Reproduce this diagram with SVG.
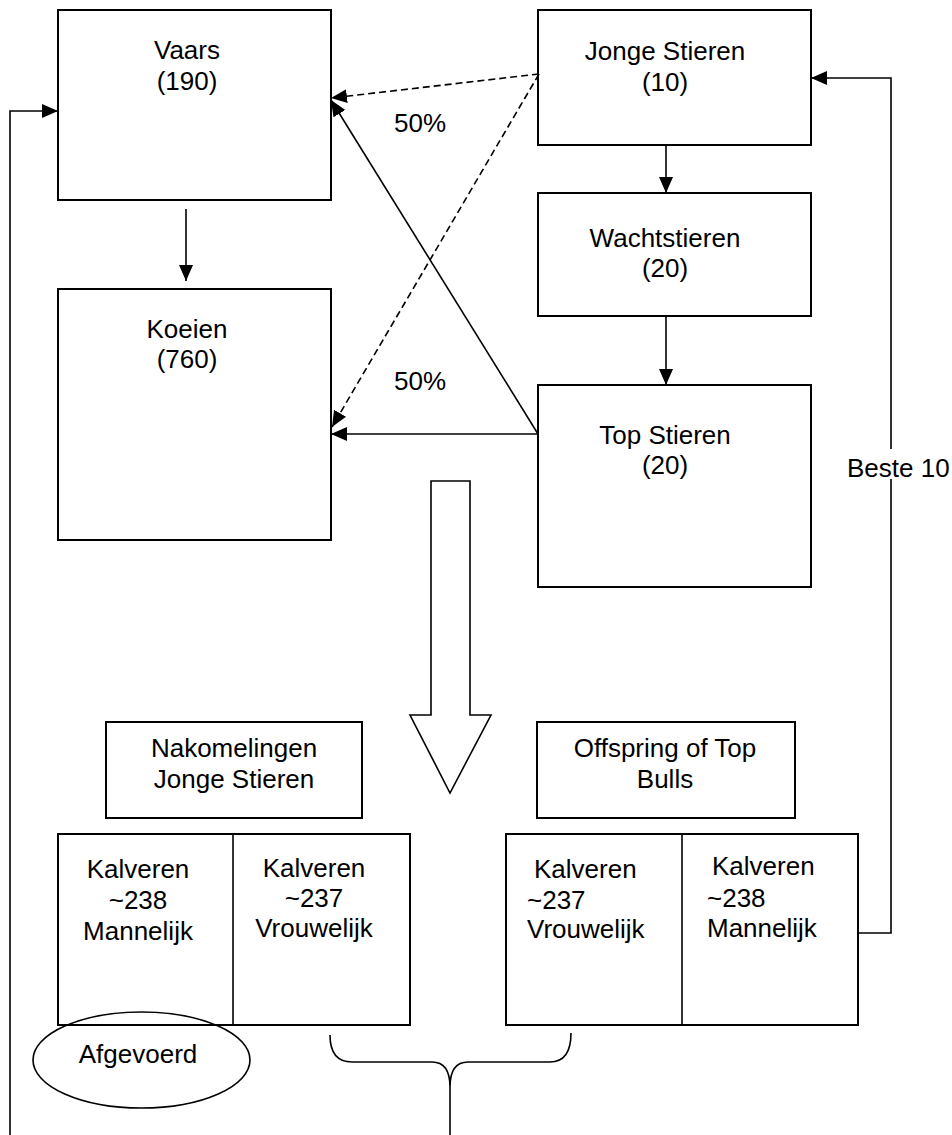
<svg xmlns="http://www.w3.org/2000/svg" width="952" height="1135" viewBox="0 0 952 1135">
<defs>
<style>
.box{fill:#fff;stroke:#000;stroke-width:2}
.ln{fill:none;stroke:#000;stroke-width:1.6}
.dash{fill:none;stroke:#000;stroke-width:1.6;stroke-dasharray:7,4}
text{font-family:"Liberation Sans",Arial,sans-serif;font-size:26px;fill:#000}
.c{text-anchor:middle}
</style>
<marker id="ah" markerUnits="userSpaceOnUse" markerWidth="18" markerHeight="16" refX="16" refY="7" orient="auto">
<path d="M0,0 L16,7 L0,14 z" fill="#000"/>
</marker>
</defs>
<rect width="952" height="1135" fill="#fff"/>

<g id="vaars"><rect class="box" x="58" y="10" width="273" height="190"/>
<text class="c" x="187" y="59">Vaars</text><text class="c" x="187" y="90">(190)</text></g>

<g id="koeien"><rect class="box" x="58" y="289" width="273" height="251"/>
<text class="c" x="187" y="338">Koeien</text><text class="c" x="187" y="368">(760)</text></g>

<g id="jonge-stieren"><rect class="box" x="538" y="10" width="273" height="135"/>
<text class="c" x="665" y="60">Jonge Stieren</text><text class="c" x="665" y="91">(10)</text></g>

<g id="wachtstieren"><rect class="box" x="538" y="193" width="273" height="123"/>
<text class="c" x="665" y="247">Wachtstieren</text><text class="c" x="665" y="277">(20)</text></g>

<g id="top-stieren"><rect class="box" x="538" y="385" width="273" height="202"/>
<text class="c" x="665" y="444">Top Stieren</text><text class="c" x="665" y="474">(20)</text></g>

<g id="nakomelingen"><rect class="box" x="106" y="722" width="256" height="96"/>
<text class="c" x="234" y="757">Nakomelingen</text><text class="c" x="234" y="788">Jonge Stieren</text></g>

<g id="offspring"><rect class="box" x="537" y="722" width="258" height="96"/>
<text class="c" x="665" y="757">Offspring of Top</text><text class="c" x="665" y="788">Bulls</text></g>

<g id="kalveren-jonge"><rect class="box" x="58" y="834" width="352" height="191"/>
<line class="ln" x1="233" y1="834" x2="233" y2="1025"/>
<text class="c" x="138" y="878">Kalveren</text><text class="c" x="138" y="909">~238</text><text class="c" x="138" y="940">Mannelijk</text>
<text class="c" x="314" y="877">Kalveren</text><text class="c" x="314" y="907">~237</text><text class="c" x="314" y="937">Vrouwelijk</text></g>

<g id="kalveren-top"><rect class="box" x="506" y="834" width="352" height="191"/>
<line class="ln" x1="682" y1="834" x2="682" y2="1025"/>
<text x="534" y="878">Kalveren</text><text x="527" y="909">~237</text><text x="527" y="938">Vrouwelijk</text>
<text x="712" y="875">Kalveren</text><text x="707" y="907">~238</text><text x="707" y="937">Mannelijk</text></g>

<g id="afgevoerd"><ellipse cx="141.5" cy="1060" rx="108.5" ry="48" fill="none" stroke="#000" stroke-width="1.6"/>
<text class="c" x="138" y="1063">Afgevoerd</text></g>

<g id="big-arrow"><path d="M431,481 L470,481 L470,715 L491,715 L450,793 L410,715 L431,715 Z" fill="#fff" stroke="#000" stroke-width="1.6"/></g>

<g id="connectors">
<line class="ln" x1="186" y1="209" x2="186" y2="281" marker-end="url(#ah)"/>
<line class="ln" x1="666" y1="145" x2="666" y2="193" marker-end="url(#ah)"/>
<line class="ln" x1="666" y1="316" x2="666" y2="385" marker-end="url(#ah)"/>
<line class="dash" x1="539" y1="74" x2="331" y2="98" marker-end="url(#ah)"/>
<line class="dash" x1="539" y1="74" x2="332" y2="427" marker-end="url(#ah)"/>
<line class="ln" x1="538" y1="434" x2="331" y2="100" marker-end="url(#ah)"/>
<line class="ln" x1="538" y1="434" x2="331" y2="434" marker-end="url(#ah)"/>
<polyline class="ln" points="10,1135 10,111 58,111" marker-end="url(#ah)"/>
<polyline class="ln" points="858,933 891,933 891,479"/>
<polyline class="ln" points="891,449 891,78 811,78" marker-end="url(#ah)"/>
<path class="ln" d="M330,1035 Q330,1062 352,1062 L432,1062 Q450,1062 450,1087 Q450,1062 468,1062 L550,1062 Q571,1062 571,1033"/>
<line class="ln" x1="450" y1="1087" x2="450" y2="1135"/>
<text class="c" x="420" y="132">50%</text>
<text class="c" x="420" y="390">50%</text>
<text x="847" y="477">Beste 10</text>
</g>
</svg>
